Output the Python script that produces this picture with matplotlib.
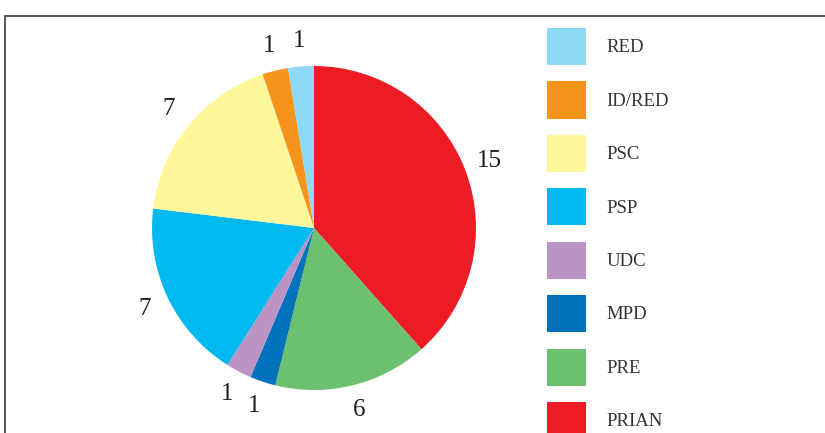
import matplotlib
matplotlib.use("Agg")
import matplotlib.pyplot as plt
from matplotlib.lines import Line2D

# seats per party, clockwise from 12 o'clock
parties = ["PRIAN", "PRE", "MPD", "UDC", "PSP", "PSC", "ID/RED", "RED"]
seats = [15, 6, 1, 1, 7, 7, 1, 1]
colors = ["#ED1C24", "#6CC070", "#0072BC", "#BC93C5", "#00B9F1", "#FFF799", "#F7941D", "#8ED8F8"]

W, H = 825, 433
fig = plt.figure(figsize=(W / 100, H / 100), dpi=100)
plt.rcParams["font.family"] = ["Liberation Serif", "DejaVu Serif"]

# pie axes placed in pixel terms
cx, cy, r = 314, 228, 162
box = 420
ax = fig.add_axes([(cx - box / 2) / W, 1 - (cy + box / 2) / H, box / W, box / H])
wedges, texts = ax.pie(seats, colors=colors, startangle=90, counterclock=False,
                       labels=[str(s) for s in seats], labeldistance=1.16,
                       wedgeprops=dict(linewidth=0),
                       textprops=dict(fontsize=18, color="#231F20"))
for t in texts:
    t.set_ha("center")
    t.set_va("center")
lim = box / 2 / r
ax.set_xlim(-lim, lim)
ax.set_ylim(-lim, lim)
ax.set_aspect("equal")
ax.axis("off")

# legend, reverse order of wedges
fs = 13.5
fig.legend(wedges[::-1], parties[::-1], loc="upper left",
           bbox_to_anchor=(547 / W, 1 - 28 / H), frameon=False,
           fontsize=fs, handlelength=2.08, handleheight=2.67,
           labelspacing=0.87, handletextpad=1.1, borderpad=0,
           borderaxespad=0, labelcolor="#333333")

# frame lines
fig.add_artist(Line2D([4.5 / W, 1], [1 - 15.5 / H, 1 - 15.5 / H],
                      transform=fig.transFigure, color="#555555", lw=1.4))
fig.add_artist(Line2D([4.5 / W, 4.5 / W], [0, 1 - 15.5 / H],
                      transform=fig.transFigure, color="#555555", lw=1.4))

fig.savefig("out.png", dpi=100)
